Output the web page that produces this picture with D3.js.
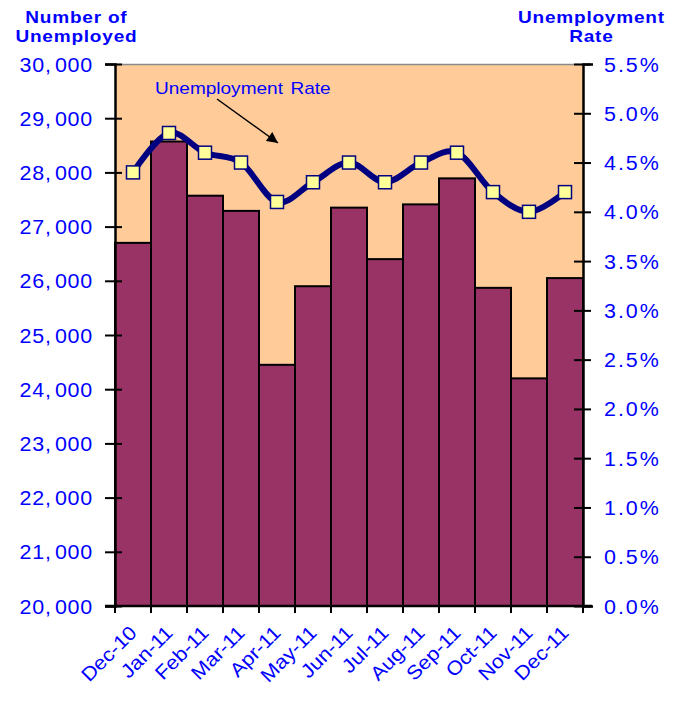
<!DOCTYPE html>
<html>
<head>
<meta charset="utf-8">
<script src="https://cdn.jsdelivr.net/npm/d3@7"></script>
<style>
  html, body { margin: 0; padding: 0; background: #ffffff; }
  svg { display: block; }
  text { font-family: "Liberation Sans", Arial, sans-serif; }
</style>
</head>
<body>
<svg id="chart" width="681" height="706"></svg>
<script>
// ---- data ----
const months = ["Dec-10","Jan-11","Feb-11","Mar-11","Apr-11","May-11","Jun-11","Jul-11","Aug-11","Sep-11","Oct-11","Nov-11","Dec-11"];
const unemployed = [26700, 28570, 27570, 27290, 24450, 25900, 27350, 26400, 27410, 27890, 25870, 24200, 26050];
const rate = [4.4, 4.8, 4.6, 4.5, 4.1, 4.3, 4.5, 4.3, 4.5, 4.6, 4.2, 4.0, 4.2];
const leftTicks = [20000, 21000, 22000, 23000, 24000, 25000, 26000, 27000, 28000, 29000, 30000];
const rightTicks = [0, 0.5, 1.0, 1.5, 2.0, 2.5, 3.0, 3.5, 4.0, 4.5, 5.0, 5.5];

const blue = "#0000FF";
const SX = 1.1; // horizontal glyph stretch seen in the reference
const svg = d3.select("#chart");

const plot = { left: 115, right: 583, top: 64, bottom: 606 };

const x = d3.scaleBand().domain(months).range([plot.left, plot.right]).padding(0);
const yL = d3.scaleLinear().domain([20000, 30000]).range([plot.bottom, plot.top]);
const yR = d3.scaleLinear().domain([0, 5.5]).range([plot.bottom, plot.top]);

// plot background
svg.append("rect")
  .attr("x", plot.left).attr("y", plot.top)
  .attr("width", plot.right - plot.left).attr("height", plot.bottom - plot.top)
  .attr("fill", "#FFCC99");
svg.append("line")
  .attr("x1", plot.left).attr("x2", plot.right)
  .attr("y1", plot.top + 0.5).attr("y2", plot.top + 0.5)
  .attr("stroke", "#8a8a8a").attr("stroke-width", 1.5);

// bars
svg.append("g").selectAll("rect").data(months).join("rect")
  .attr("x", d => x(d))
  .attr("y", (d, i) => yL(unemployed[i]))
  .attr("width", x.bandwidth())
  .attr("height", (d, i) => yL(20000) - yL(unemployed[i]))
  .attr("fill", "#993366")
  .attr("stroke", "#000")
  .attr("stroke-width", 2);

// left axis
const fmt = d3.format(",");
const gL = svg.append("g").attr("transform", `translate(${plot.left},0)`)
  .call(d3.axisLeft(yL).tickValues(leftTicks).tickFormat(fmt).tickSize(10).tickPadding(14));
gL.select(".domain").attr("stroke", "#000").attr("stroke-width", 2.5);
gL.selectAll(".tick line").attr("x1", 7).attr("x2", -10).attr("stroke", "#000").attr("stroke-width", 2);
gL.selectAll(".tick text").attr("fill", blue).attr("font-size", 19.5)
  .attr("font-family", "Liberation Sans, Arial, sans-serif").attr("letter-spacing", 0.7)
  .attr("transform", `scale(${SX},1)`).attr("x", -22 / SX).attr("dy", "0.36em")
  .each(function(d) {
    const parts = fmt(d).split(",");
    const t = d3.select(this).text(null);
    t.append("tspan").text(parts[0] + ",");
    t.append("tspan").attr("dx", 3).text(parts[1]);
  });

// right axis
const gR = svg.append("g").attr("transform", `translate(${plot.right},0)`)
  .call(d3.axisRight(yR).tickValues(rightTicks).tickFormat(d => d.toFixed(1) + "%").tickSize(10).tickPadding(12));
gR.select(".domain").attr("stroke", "#000").attr("stroke-width", 2.5);
gR.selectAll(".tick line").attr("x1", -9).attr("x2", 8).attr("stroke", "#000").attr("stroke-width", 2);
gR.selectAll(".tick text").attr("fill", blue).attr("font-size", 19.5)
  .attr("font-family", "Liberation Sans, Arial, sans-serif").attr("letter-spacing", 1.8)
  .attr("transform", `scale(${SX},1)`).attr("x", 21 / SX).attr("dy", "0.36em");

// bottom axis
const gB = svg.append("g").attr("transform", `translate(0,${plot.bottom})`);
gB.append("line").attr("x1", plot.left - 10).attr("x2", plot.right + 9)
  .attr("y1", 0).attr("y2", 0).attr("stroke", "#000").attr("stroke-width", 2.5);
const bounds = months.map(d => x(d)).concat([plot.right]);
gB.selectAll("line.tk").data(bounds).join("line").attr("class", "tk")
  .attr("x1", d => d).attr("x2", d => d).attr("y1", 0).attr("y2", 7)
  .attr("stroke", "#000").attr("stroke-width", 2);
gB.selectAll("text").data(months).join("text")
  .attr("transform", d => `translate(${x(d) + x.bandwidth() / 2 + 5},${28}) rotate(-45) scale(${SX},1)`)
  .attr("text-anchor", "end")
  .attr("fill", blue).attr("font-size", 19.5)
  .text(d => d);

// rate line
const line = d3.line()
  .x((d, i) => x(months[i]) + x.bandwidth() / 2)
  .y(d => yR(d))
  .curve(d3.curveCatmullRom.alpha(0));
svg.append("path").datum(rate)
  .attr("d", line)
  .attr("fill", "none").attr("stroke", "#000080").attr("stroke-width", 6)
  .attr("stroke-linejoin", "round");

// markers
const ms = 13;
svg.append("g").selectAll("rect").data(rate).join("rect")
  .attr("x", (d, i) => x(months[i]) + x.bandwidth() / 2 - ms / 2)
  .attr("y", d => yR(d) - ms / 2)
  .attr("width", ms).attr("height", ms)
  .attr("fill", "#FFFF99").attr("stroke", "#000080").attr("stroke-width", 1.5);

// annotation
svg.append("text").attr("transform", `translate(155,94) scale(1.12,1)`)
  .attr("fill", blue).attr("font-size", 17).attr("word-spacing", 2)
  .text("Unemployment Rate");
const defs = svg.append("defs");
defs.append("marker").attr("id", "arrow")
  .attr("viewBox", "0 0 10 10").attr("refX", 10).attr("refY", 5)
  .attr("markerWidth", 13).attr("markerHeight", 11).attr("markerUnits", "userSpaceOnUse")
  .attr("orient", "auto")
  .append("path").attr("d", "M0,0 L10,5 L0,10 Z").attr("fill", "#000");
svg.append("line").attr("x1", 217).attr("y1", 99).attr("x2", 278).attr("y2", 143)
  .attr("stroke", "#000").attr("stroke-width", 1.5).attr("marker-end", "url(#arrow)");

// titles
function title(lines, cx) {
  const t = svg.append("text").attr("text-anchor", "middle").attr("fill", blue)
    .attr("transform", `translate(${cx + 0.4},0) scale(1.12,1)`)
    .attr("font-size", 17).attr("font-weight", "bold").attr("letter-spacing", 0.7);
  lines.forEach((s, i) => t.append("tspan").attr("x", 0).attr("y", 23 + i * 19).text(s));
}
title(["Number of", "Unemployed"], 76);
title(["Unemployment", "Rate"], 591);
</script>
</body>
</html>
